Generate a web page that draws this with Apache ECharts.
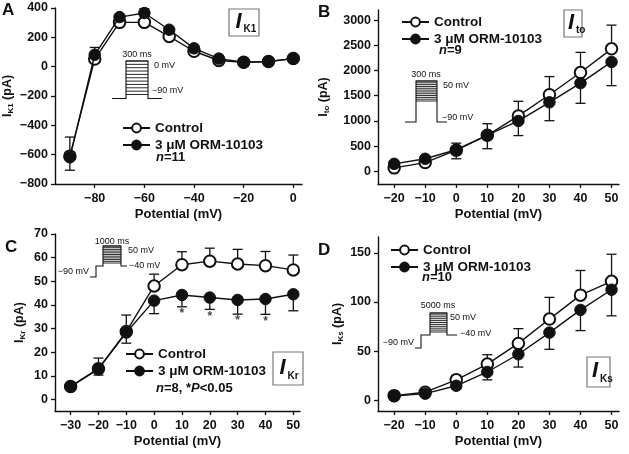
<!DOCTYPE html>
<html><head><meta charset="utf-8">
<script src="https://cdn.jsdelivr.net/npm/echarts@6/dist/echarts.min.js"></script>
<style>html,body{margin:0;padding:0;background:#fff}#c{width:629px;height:454px}</style>
</head><body><div id="c"></div>
<script>
// ---- Panel A: I_K1 ----
const potA = [-90,-80,-70,-60,-50,-40,-30,-20,-10,0];
const ctrlA = [-610,52,302,302,206,105,42,30,35,55];
const ormA = [-618,81,338,366,252,125,55,30,35,55];
const ctrlErrA = [130,79,25,93,20,15,10,8,8,10];
const ormErrA = [88,20,25,20,20,15,10,8,8,10];
const xTicksA = [-80,-60,-40,-20,0];
const yTicksA = [-800,-600,-400,-200,0,200,400];
// ---- Panel B: I_to ----
const potB = [-20,-10,0,10,20,30,40,50];
const ctrlB = [70,175,420,715,1100,1520,1960,2430];
const ormB = [150,250,430,720,1000,1370,1750,2170];
const ctrlErrB = [50,60,140,230,290,360,400,470];
const ormErrB = [50,60,180,270,290,365,400,470];
const xTicksB = [-20,-10,0,10,20,30,40,50];
const yTicksB = [0,500,1000,1500,2000,2500,3000];
// ---- Panel C: I_Kr ----
const potC = [-30,-20,-10,0,10,20,30,40,50];
const ctrlC = [5.5,13,28.7,48,57,58.5,57.3,56.6,54.8];
const ormC = [5.4,12.8,28.3,41.8,44.2,43.1,42.1,42.5,44.5];
const ctrlErrC = [1,4.5,7,5,5.5,5.5,6.2,6,6.3];
const ormErrC = [1,2.5,4.5,5.5,5,5,6,6.5,7];
const sigC = [10,20,30,40];
const xTicksC = [-30,-20,-10,0,10,20,30,40,50];
const yTicksC = [0,10,20,30,40,50,60,70];
// ---- Panel D: I_Ks ----
const potD = [-20,-10,0,10,20,30,40,50];
const ctrlD = [5,8.5,21,37,58,82.7,107,121];
const ormD = [4.5,7,15,29,47,69,92,112.5];
const ctrlErrD = [1,2,4.5,9.5,15,22,25,27.5];
const ormErrD = [1,2,3,8,13,17,21,26.5];
const xTicksD = [-20,-10,0,10,20,30,40,50];
const yTicksD = [0,50,100,150];

const FONT = '"Liberation Sans", Arial, sans-serif';
const chart = echarts.init(document.getElementById('c'), null, {renderer:'canvas'});

const zip = (xs, ys) => xs.map((x,i)=>[x, ys[i]]);
const zip3 = (xs, ys, es) => xs.map((x,i)=>[x, ys[i], es[i]]);
const fmt = v => String(v).replace('-', '\u2212');

function errBar(dir){
  return function(params, api){
    const x = api.value(0), y = api.value(1), e = api.value(2);
    const p0 = api.coord([x, y]), p1 = api.coord([x, y + dir*e]);
    const hw = 5;
    const st = {stroke:'#111', lineWidth:1.3};
    return {type:'group', children:[
      {type:'line', shape:{x1:p0[0],y1:p0[1],x2:p1[0],y2:p1[1]}, style:st},
      {type:'line', shape:{x1:p1[0]-hw,y1:p1[1],x2:p1[0]+hw,y2:p1[1]}, style:st}
    ]};
  };
}

const grids = [
  {left:55, top:8, width:247, height:176},
  {left:378, top:10, width:241, height:174},
  {left:55, top:234, width:245, height:177},
  {left:378, top:237, width:241, height:174}
];
const xRanges = [[-96,3.5],[-25.2,52.4],[-35.6,52.4],[-25.2,52.4]];
const yRanges = [[-800,400],[-250,3200],[-4.9,70],[-10.6,166]];
const xTicks = [xTicksA, xTicksB, xTicksC, xTicksD];
const yTicks = [yTicksA, yTicksB, yTicksC, yTicksD];
const subs = ['K1','to','Kr','Ks'];
const yNameGap = [40, 47, 28, 33];

const axisLine = {show:true, onZero:false, lineStyle:{color:'#111', width:1.4}};
const xAxis = grids.map((g,i)=>({
  type:'value', gridIndex:i, min:xRanges[i][0], max:xRanges[i][1],
  axisLine, splitLine:{show:false},
  axisTick:{show:true, length:4, customValues:xTicks[i], lineStyle:{color:'#111', width:1.3}},
  axisLabel:{customValues:xTicks[i], formatter:fmt, color:'#111', fontFamily:FONT, fontWeight:'bold', fontSize:12.5, margin:8},
  name:'Potential (mV)', nameLocation:'middle', nameGap:24,
  nameTextStyle:{color:'#111', fontFamily:FONT, fontWeight:'bold', fontSize:13}
}));
const yAxis = grids.map((g,i)=>({
  type:'value', gridIndex:i, min:yRanges[i][0], max:yRanges[i][1],
  axisLine, splitLine:{show:false},
  axisTick:{show:true, length:4, customValues:yTicks[i], lineStyle:{color:'#111', width:1.3}},
  axisLabel:{customValues:yTicks[i], formatter:fmt, color:'#111', fontFamily:FONT, fontWeight:'bold', fontSize:12.5, margin:7},
  name:'{i|I}{s|'+subs[i]+'}{t| (pA)}', nameLocation:'middle', nameGap:yNameGap[i], nameRotate:90,
  nameTextStyle:{color:'#111', fontFamily:FONT, fontWeight:'bold', fontSize:12.5,
    rich:{i:{fontFamily:FONT, fontWeight:'bold', fontSize:12.5, color:'#111'},
          s:{fontFamily:FONT, fontWeight:'bold', fontSize:8, color:'#111', verticalAlign:'bottom', padding:[6,0,0,0]},
          t:{fontFamily:FONT, fontWeight:'bold', fontSize:12.5, color:'#111'}}}
}));

const CTRL = 'Control', ORM = '3 \u03bcM ORM-10103';
const pots = [potA, potB, potC, potD];
const ctrls = [ctrlA, ctrlB, ctrlC, ctrlD];
const orms = [ormA, ormB, ormC, ormD];
const cErrs = [ctrlErrA, ctrlErrB, ctrlErrC, ctrlErrD];
const oErrs = [ormErrA, ormErrB, ormErrC, ormErrD];

const series = [];
for (let i=0;i<4;i++){
  series.push({type:'custom', xAxisIndex:i, yAxisIndex:i, z:1, silent:true,
    renderItem:errBar(1), encode:{x:0,y:1}, data:zip3(pots[i], ctrls[i], cErrs[i])});
  series.push({type:'custom', xAxisIndex:i, yAxisIndex:i, z:1, silent:true,
    renderItem:errBar(-1), encode:{x:0,y:1}, data:zip3(pots[i], orms[i], oErrs[i])});
  series.push({type:'line', name:CTRL, xAxisIndex:i, yAxisIndex:i, z:3,
    symbol:'circle', symbolSize:11.5, showAllSymbol:true,
    lineStyle:{color:'#111', width:1.4},
    itemStyle:{color:'#fff', borderColor:'#111', borderWidth:2},
    data:zip(pots[i], ctrls[i])});
  series.push({type:'line', name:ORM, xAxisIndex:i, yAxisIndex:i, z:4,
    symbol:'circle', symbolSize:11.5, showAllSymbol:true,
    lineStyle:{color:'#111', width:1.4},
    itemStyle:{color:'#111', borderColor:'#111', borderWidth:1},
    data:zip(pots[i], orms[i])});
}
// significance asterisks (panel C), placed below ORM error bars
series.push({type:'scatter', xAxisIndex:2, yAxisIndex:2, symbolSize:0, z:5, silent:true,
  label:{show:true, formatter:'*', position:'bottom', distance:1, color:'#111', fontFamily:FONT, fontWeight:'bold', fontSize:12},
  data: sigC.map(v=>{const k=potC.indexOf(v); return [v, ormC[k]-ormErrC[k]];})});

const legendBase = {orient:'vertical', itemWidth:27, itemHeight:11, itemGap:3, padding:0,
  textStyle:{color:'#111', fontFamily:FONT, fontWeight:'bold', fontSize:13.5},
  selectedMode:false, data:[CTRL, ORM]};
const legend = [
  Object.assign({}, legendBase, {left:122, top:121}),
  Object.assign({}, legendBase, {left:401, top:15}),
  Object.assign({}, legendBase, {left:125, top:347}),
  Object.assign({}, legendBase, {left:390, top:243})
];

// graphic: panel letters, boxed current labels, n text, protocol insets
const letterStyle = {fill:'#111', font:'bold 17px '+FONT};
function T(x,y,text,font,align){return {type:'text', x, y, style:{text, fill:'#111', font, align:align||'left', verticalAlign:'middle'}};}
function L(pts){return {type:'polyline', shape:{points:pts}, style:{stroke:'#111', lineWidth:1.1, fill:null}};}
function stripes(x1,x2,yTop,yBot,n){
  const arr=[]; for(let k=0;k<n;k++){const y=yTop+(yBot-yTop)*k/(n-1); arr.push({type:'line', shape:{x1,y1:y,x2,y2:y}, style:{stroke:'#111', lineWidth:0.9}});} return arr;
}
function box(x,y,w,h,sub){
  return [
    {type:'rect', shape:{x,y,width:w,height:h}, style:{fill:'#fff', stroke:'#777', lineWidth:1.2}},
    {type:'text', x:x+w*0.22, y:y+h*0.47, style:{text:'I', fill:'#111', font:'italic bold 22px '+FONT, verticalAlign:'middle', align:'left'}},
    {type:'text', x:x+w*0.22+8, y:y+h*0.74, style:{text:sub, fill:'#111', font:'bold 10px '+FONT, verticalAlign:'middle', align:'left'}}
  ];
}
const small = '9px '+FONT;
const nFont = 'bold 13px '+FONT;
const graphic = [
  {type:'text', x:2, y:10, style:Object.assign({text:'A', verticalAlign:'middle'}, letterStyle)},
  {type:'text', x:318, y:12, style:Object.assign({text:'B', verticalAlign:'middle'}, letterStyle)},
  {type:'text', x:5, y:247, style:Object.assign({text:'C', verticalAlign:'middle'}, letterStyle)},
  {type:'text', x:318, y:250, style:Object.assign({text:'D', verticalAlign:'middle'}, letterStyle)},
  ...box(229,9,30,27,'K1'),
  ...box(564,10,18,27,'to'),
  ...box(273,352,30,33,'Kr'),
  ...box(587,357,23,30,'Ks'),
  {type:'text', x:156, y:157, style:{rich:{a:{font:'italic bold 13px '+FONT, fill:'#111'}, b:{font:nFont, fill:'#111'}}, text:'{a|n}{b|=11}', verticalAlign:'middle'}},
  {type:'text', x:439, y:50, style:{rich:{a:{font:'italic bold 13px '+FONT, fill:'#111'}, b:{font:nFont, fill:'#111'}}, text:'{a|n}{b|=9}', verticalAlign:'middle'}},
  {type:'text', x:156, y:388, style:{rich:{a:{font:'italic bold 13px '+FONT, fill:'#111'}, b:{font:nFont, fill:'#111'}}, text:'{a|n}{b|=8, *}{a|P}{b|<0.05}', verticalAlign:'middle'}},
  {type:'text', x:422, y:277, style:{rich:{a:{font:'italic bold 13px '+FONT, fill:'#111'}, b:{font:nFont, fill:'#111'}}, text:'{a|n}{b|=10}', verticalAlign:'middle'}},
  // inset A
  L([[112,98.5],[126,98.5],[126,61],[148,61],[148,98.5],[162,98.5]]),
  ...stripes(126,148,61,94.5,11),
  T(137,55,'300 ms',small,'center'), T(154,66,'0 mV',small), T(152,91,'\u221290 mV',small),
  // inset B
  L([[405,122],[416,122],[416,81],[437,81],[437,122],[447,122]]),
  ...stripes(416,437,81,101,12),
  T(426,75,'300 ms',small,'center'), T(443,86,'50 mV',small), T(442,118,'\u221290 mV',small),
  // inset C
  L([[90,277],[96,277],[96,266],[103,266],[103,246],[121,246],[121,266],[127,266]]),
  ...stripes(103,121,246,263,11),
  T(112,242,'1000 ms',small,'center'), T(128,251,'50 mV',small), T(129,266,'\u221240 mV',small), T(89,272,'\u221290 mV',small,'right'),
  // inset D
  L([[415,348],[421,348],[421,335],[430,335],[430,313],[447,313],[447,335],[457,335]]),
  ...stripes(430,447,313,332,11),
  T(438,306,'5000 ms',small,'center'), T(450,318,'50 mV',small), T(460,334,'\u221240 mV',small), T(414,343,'\u221290 mV',small,'right')
];

chart.setOption({
  animation:false,
  backgroundColor:'#fff',
  grid:grids, xAxis, yAxis, series, legend, graphic
});
</script>
</body></html>
